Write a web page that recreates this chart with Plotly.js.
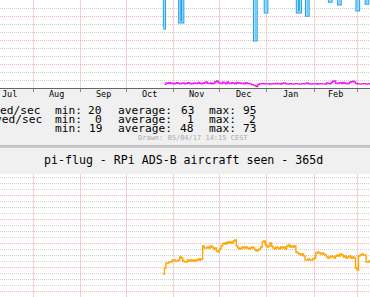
<!DOCTYPE html>
<html><head><meta charset="utf-8">
<script src="https://cdn.plot.ly/plotly-3.0.1.min.js"></script>
<style>html,body{margin:0;padding:0;background:#F0F0F0;overflow:hidden}#chart{width:370px;height:297px}</style>
</head><body><div id="chart"></div>
<script>
// ---- data ----
const firstDay = '2016-10-25';
const dayCount = 137;
// top graph: blue series (mostly above the visible window), one value per day
const blueRate = [
  25, 62, 70, 58, 66, 74, 61,
  68, 59, 72, 64, 27.5, 27.5, 55, 71, 63, 78, 66, 60, 74, 69, 57, 81, 65, 70, 62, 76, 58, 67, 73, 61, 84, 66, 59, 72, 68, 63,
  70, 64, 58, 77, 62, 69, 73, 60, 66, 82, 59, 71, 65, 68, 74, 57, 63, 79, 61, 67, 72, 56, 64, 20, 58, 69, 75, 62, 66, 60, 31.7,
  48, 66, 71, 59, 63, 77, 60, 68, 73, 57, 65, 80, 62, 69, 58, 74, 61, 67, 70, 64, 31.7, 31.7, 55, 62, 68, 57, 30.4, 60, 66, 71, 58,
  64, 69, 57, 72, 61, 95, 66, 59, 63, 70, 36.2, 58, 67, 74, 60, 65, 35, 62, 68, 71, 57, 63, 69, 60, 66, 73, 58, 62,
  32.5, 61, 67, 58, 64, 70, 35.4, 59, 66, 62
];
// top graph: magenta series
const magentaRate = [
  null, 1.5, 2.1, 2.0, 2.2, 1.9, 2.0,
  1.8, 2.0, 2.2, 1.9, 1.7, 2.0, 2.1, 1.8, 1.9, 2.2, 2.0, 1.8, 1.7, 2.1, 2.0, 1.9, 2.3, 2.0, 1.8, 2.0, 2.2, 2.5, 2.0, 1.9, 2.1, 1.8, 2.0, 2.6, 2.9, 2.4,
  2.0, 1.9, 2.4, 2.1, 1.8, 2.5, 2.0, 1.9, 2.2, 2.0, 1.8, 2.3, 2.0, 2.1, 1.9, 2.0, 1.8, 2.2, 2.0, 1.9, 1.7, 1.4, 1.2, 1.0, 0.6, 1.4, 1.8, 1.7, 1.9, 1.8, 1.7,
  1.7, 1.8, 1.6, 1.7, 1.8, 1.7, 1.9, 1.7, 1.8, 1.6, 2.0, 2.1, 1.8, 1.7, 1.6, 1.8, 1.7, 1.6, 1.7, 1.8, 1.7, 1.6, 1.7, 1.8, 1.7, 1.9, 2.1, 1.8, 1.7, 1.6, 1.7,
  1.7, 1.8, 1.6, 1.7, 1.8, 1.7, 1.7, 1.6, 2.1, 1.9, 1.8, 2.3, 2.8, 2.9, 2.0, 1.9, 2.1, 2.2, 1.9, 2.3, 2.0, 1.8, 1.9, 2.4, 2.6, 2.8, 2.5, 1.9,
  1.8, 1.7, 1.6, 1.7, 1.8, 1.7, 1.6, 1.7, 1.8, 1.7
];
// bottom graph: aircraft seen (orange)
const aircraftSeen = [
  34.2, 39.2, 43.3, 43.3, 44.2, 44.2, 45.8,
  45.8, 45.0, 45.0, 45.8, 48.3, 47.5, 45.0, 44.2, 44.2, 45.8, 45.0, 45.8, 45.0, 45.8, 45.0, 45.8, 46.7, 45.8, 46.7, 57.5, 55.8, 55.8, 56.7, 55.8, 57.5, 56.7, 55.0, 55.8, 53.3, 52.5,
  55.0, 57.5, 59.2, 60.0, 59.2, 60.8, 60.0, 60.8, 60.0, 61.7, 62.5, 57.5, 55.8, 55.0, 55.8, 56.7, 55.8, 56.7, 55.8, 55.0, 55.8, 56.7, 55.8, 54.2, 53.3, 54.2, 55.0, 56.7, 60.8, 61.7, 58.3,
  56.7, 57.5, 60.0, 57.5, 55.8, 55.0, 56.7, 55.8, 55.0, 56.7, 55.8, 56.7, 55.0, 57.5, 58.3, 56.7, 57.5, 56.7, 57.5, 52.5, 51.7, 50.8, 50.0, 50.8, 49.2, 45.8, 45.8, 46.7, 45.8, 45.8, 46.7,
  47.5, 51.7, 52.5, 51.7, 50.8, 51.7, 50.8, 50.0, 48.3, 47.5, 48.3, 49.2, 48.3, 47.5, 49.2, 50.0, 49.2, 50.8, 50.0, 48.3, 49.2, 47.5, 48.3, 49.2, 47.5, 48.3, 47.5, 39.2,
  37.5, 49.2, 50.0, 50.8, 50.0, 50.0, 44.2, 44.2, 45.0, 45.0
];
const monthStarts = ['2016-08-01','2016-09-01','2016-10-01','2016-11-01','2016-12-01','2017-01-01','2017-02-01','2017-03-01'];
const monthLabels = ['Jul','Aug','Sep','Oct','Nov','Dec','Jan','Feb'];
const monthMids = ['2016-07-16 12:00','2016-08-16 12:00','2016-09-16','2016-10-16 12:00','2016-11-16','2016-12-16 12:00','2017-01-16 12:00','2017-02-15'];
const legendNames = ['ed/sec','ved/sec',''];
const legendMin = [20, 0, 19];
const legendAvg = [63, 1, 48];
const legendMax = [95, 2, 73];
const titleText = 'pi-flug - RPi ADS-B aircraft seen - 365d';
const drawnText = 'Drawn: 05/04/17 14:15 CEST';

// ---- build ----
const days = [];
const t0 = Date.parse(firstDay + 'T00:00:00Z');
for (let i = 0; i < dayCount; i++) days.push(new Date(t0 + i * 86400000).toISOString().slice(0, 10));

const W = 370, H = 297;
const py = v => 1 - v / H;
const px = v => v / W;
const mono = 'DejaVu Sans Mono';
const LF = 11.2;

const xRange = ['2016-07-10 09:46', '2017-03-09 12:09'];

const traces = [
  {x: days, y: magentaRate, xaxis: 'x', yaxis: 'y', mode: 'lines', line: {shape: 'hv', color: '#EE22EE', width: 1.4}, connectgaps: false},
  {x: days, y: blueRate, xaxis: 'x', yaxis: 'y', mode: 'lines', line: {shape: 'hv', color: '#2AA2E6', width: 3.2}},
  {x: days, y: blueRate, xaxis: 'x', yaxis: 'y', mode: 'lines', line: {shape: 'hv', color: '#9ADFFF', width: 1.2}},
  {x: days, y: aircraftSeen, xaxis: 'x2', yaxis: 'y2', mode: 'lines', line: {shape: 'hv', color: '#FFA500', width: 1.4}}
];

const annotations = [];
const txt = (x, y, t, anchor, size, color) => annotations.push({
  x: px(x), xref: 'paper', y: py(y), yref: 'paper', text: t, showarrow: false, borderpad: 0,
  xanchor: anchor, yanchor: 'middle', font: {family: mono, size: size, color: color || '#000'}});

monthLabels.forEach((m, i) => annotations.push({
  x: monthMids[i], xref: 'x', y: py(93.5), yref: 'paper', text: m, showarrow: false, borderpad: 0,
  xanchor: 'center', yanchor: 'middle', font: {family: mono, size: 8.5, color: '#000'}
}));
const rowY = [110, 119, 128];
const labelEnd = [41, 43, 41];
legendNames.forEach((n, i) => {
  if (n) txt(labelEnd[i], rowY[i], n, 'right', LF);
  txt(54, rowY[i], 'min:', 'left', LF);
  txt(103, rowY[i], String(legendMin[i]), 'right', LF);
  txt(117, rowY[i], 'average:', 'left', LF);
  txt(195, rowY[i], String(legendAvg[i]), 'right', LF);
  txt(208, rowY[i], 'max:', 'left', LF);
  txt(257, rowY[i], String(legendMax[i]), 'right', LF);
});
txt(137, 138, drawnText, 'left', 7, '#AAAAAA');
txt(183, 160, titleText, 'center', 11.6);

const gridV = 'rgba(240,150,150,0.45)';
const gridMajor = 'rgba(255,90,90,0.45)';
const gridMinor = 'rgba(150,150,150,0.45)';

const xBase = {type: 'date', range: xRange, domain: [0, 1], tickvals: monthStarts, showticklabels: false,
  showgrid: true, gridcolor: gridV, gridwidth: 1, zeroline: false, fixedrange: true};

const layout = {
  width: W, height: H, margin: {l: 0, r: 0, t: 0, b: 0, pad: 0},
  paper_bgcolor: '#F0F0F0', plot_bgcolor: '#FFFFFF', showlegend: false,
  xaxis: Object.assign({}, xBase, {anchor: 'y', ticks: 'outside', ticklen: 3, tickcolor: '#888', tickwidth: 1,
    showline: true, linecolor: '#666', linewidth: 1}),
  yaxis: {domain: [py(88), 1], range: [0, 36.667], tick0: 0, dtick: 10, showticklabels: false, ticks: '',
    showgrid: true, gridcolor: gridMajor, griddash: '1px,1px', zeroline: false, fixedrange: true,
    minor: {tick0: 0, dtick: 10 / 3, showgrid: true, gridcolor: gridMinor, griddash: '1px,1px', ticks: ''}},
  xaxis2: Object.assign({}, xBase, {anchor: 'y2', ticks: '', showline: false}),
  yaxis2: {domain: [0, py(174)], range: [15, 117.5], tick0: 0, dtick: 20, showticklabels: false, ticks: '',
    showgrid: true, gridcolor: gridMajor, griddash: '1px,1px', zeroline: false, fixedrange: true,
    minor: {tick0: 0, dtick: 5, showgrid: true, gridcolor: gridMinor, griddash: '1px,1px', ticks: ''}},
  shapes: [
    {type: 'line', xref: 'paper', yref: 'paper', x0: 0, x1: 1, y0: py(146), y1: py(146), line: {color: '#999999', width: 1}},
    {type: 'line', xref: 'paper', yref: 'paper', x0: 0, x1: 1, y0: py(147.5), y1: py(147.5), line: {color: '#CBCBCB', width: 1}}
  ],
  annotations: annotations
};

Plotly.newPlot('chart', traces, layout, {staticPlot: true, displayModeBar: false});
</script></body></html>
